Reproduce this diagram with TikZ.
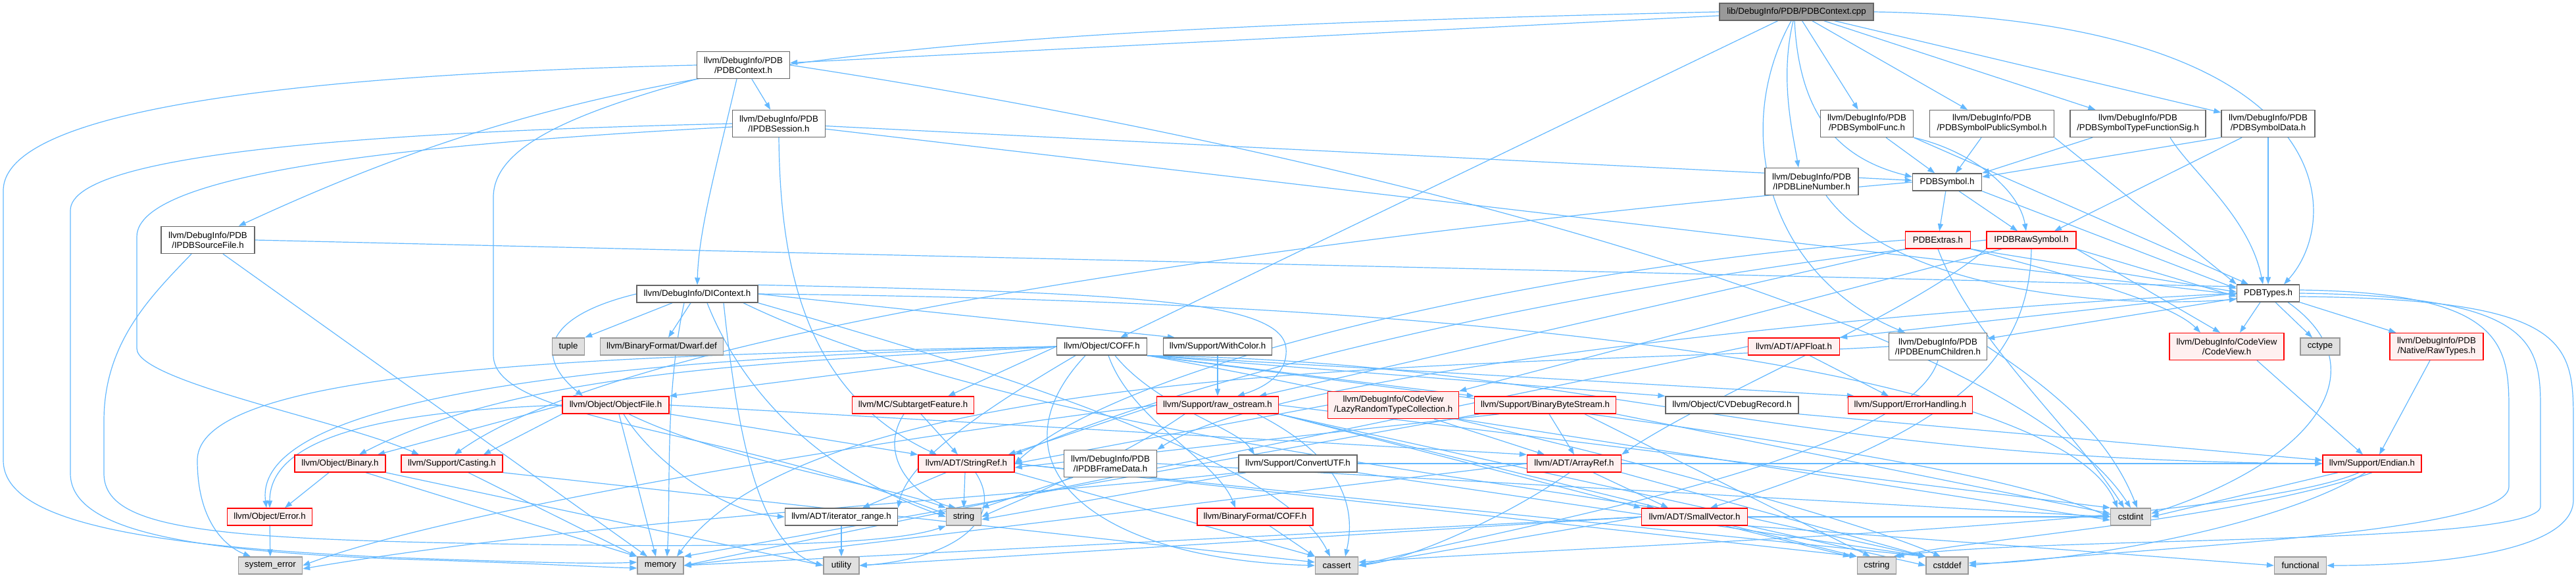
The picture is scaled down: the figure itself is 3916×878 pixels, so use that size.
\documentclass[tikz,border=0pt]{standalone}
\usepackage{fontspec}
\setmainfont{Liberation Sans}
\usetikzlibrary{arrows.meta}
\pgfdeclarelayer{bg}
\pgfsetlayers{bg,main}
\definecolor{edgeblue}{HTML}{63B8FF}
\definecolor{redfill}{HTML}{FFF0F0}
\definecolor{sysfill}{HTML}{E0E0E0}
\definecolor{sysline}{HTML}{999999}
\definecolor{boxline}{HTML}{666666}

\begin{document}
\begin{tikzpicture}[x=1pt,y=-1pt,font=\fontsize{13.3}{15}\selectfont,
  hbox/.style={draw=boxline,fill=white,line width=1.4pt,inner sep=0pt,minimum height=26pt,align=center},
  tall/.style={minimum height=41pt},
  redbox/.style={hbox,draw=red,fill=redfill},
  sysbox/.style={hbox,draw=sysline,fill=sysfill},
  rootbox/.style={hbox,fill=sysline},
  dep/.style={draw=edgeblue,line width=1.2pt,-{Triangle[length=11pt,width=8pt]}}]
  \useasboundingbox (0,0) rectangle (3916,878);

  % top rows
  \node[rootbox,minimum width=234pt] (root) at (2731,18) {lib/DebugInfo/PDB/PDBContext.cpp};
  \node[hbox,tall,minimum width=141pt] (ctxh) at (1130,99) {llvm/DebugInfo/PDB\\/PDBContext.h};
  \node[hbox,tall,minimum width=141pt] (sess) at (1184,188) {llvm/DebugInfo/PDB\\/IPDBSession.h};
  \node[hbox,tall,minimum width=141pt] (func) at (2838,188) {llvm/DebugInfo/PDB\\/PDBSymbolFunc.h};
  \node[hbox,tall,minimum width=189pt] (pubsym) at (3028,188) {llvm/DebugInfo/PDB\\/PDBSymbolPublicSymbol.h};
  \node[hbox,tall,minimum width=206pt] (fsig) at (3250,188) {llvm/DebugInfo/PDB\\/PDBSymbolTypeFunctionSig.h};
  \node[hbox,tall,minimum width=142pt] (sdata) at (3448,188) {llvm/DebugInfo/PDB\\/PDBSymbolData.h};
  \node[hbox,tall,minimum width=142pt] (lineno) at (2754,276) {llvm/DebugInfo/PDB\\/IPDBLineNumber.h};
  \node[hbox,minimum width=105pt] (sym) at (2960,277) {PDBSymbol.h};
  \node[hbox,tall,minimum width=142pt] (srcfile) at (316,365) {llvm/DebugInfo/PDB\\/IPDBSourceFile.h};
  \node[redbox,minimum width=99pt] (extras) at (2946,365) {PDBExtras.h};
  \node[redbox,minimum width=136pt] (rawsym) at (3088,365) {IPDBRawSymbol.h};
  \node[hbox,minimum width=184pt] (dictx) at (1060,447) {llvm/DebugInfo/DIContext.h};
  \node[hbox,minimum width=95pt] (types) at (3448,446) {PDBTypes.h};

  % middle rows
  \node[sysbox,minimum width=49pt] (tuple) at (864,527) {tuple};
  \node[sysbox,minimum width=187pt] (dwarf) at (1006,527) {llvm/BinaryFormat/Dwarf.def};
  \node[hbox,minimum width=137pt] (ocoff) at (1675,527) {llvm/Object/COFF.h};
  \node[hbox,minimum width=165pt] (color) at (1851,527) {llvm/Support/WithColor.h};
  \node[redbox,minimum width=139pt] (apfloat) at (2727,527) {llvm/ADT/APFloat.h};
  \node[hbox,tall,minimum width=149pt] (enumch) at (2946,527) {llvm/DebugInfo/PDB\\/IPDBEnumChildren.h};
  \node[redbox,tall,minimum width=174pt] (cview) at (3385,527) {llvm/DebugInfo/CodeView\\/CodeView.h};
  \node[sysbox,minimum width=60pt] (cctype) at (3527,527) {cctype};
  \node[redbox,tall,minimum width=142pt] (rawtypes) at (3704,527) {llvm/DebugInfo/PDB\\/Native/RawTypes.h};
  \node[redbox,minimum width=162pt] (objfile) at (936,616) {llvm/Object/ObjectFile.h};
  \node[redbox,minimum width=185pt] (subtgt) at (1388,616) {llvm/MC/SubtargetFeature.h};
  \node[redbox,minimum width=185pt] (ostream) at (1851,616) {llvm/Support/raw\_ostream.h};
  \node[redbox,tall,minimum width=199pt] (lazy) at (2118,616) {llvm/DebugInfo/CodeView\\/LazyRandomTypeCollection.h};
  \node[redbox,minimum width=215pt] (bbs) at (2349,616) {llvm/Support/BinaryByteStream.h};
  \node[hbox,minimum width=202pt] (cvdbg) at (2633,616) {llvm/Object/CVDebugRecord.h};
  \node[redbox,minimum width=189pt] (errh) at (2904,616) {llvm/Support/ErrorHandling.h};
  \node[redbox,minimum width=138pt] (binary) at (517,705) {llvm/Object/Binary.h};
  \node[redbox,minimum width=154pt] (casting) at (687,705) {llvm/Support/Casting.h};
  \node[redbox,minimum width=146pt] (strref) at (1469,705) {llvm/ADT/StringRef.h};
  \node[hbox,tall,minimum width=141pt] (frame) at (1688,705) {llvm/DebugInfo/PDB\\/IPDBFrameData.h};
  \node[hbox,minimum width=180pt] (cutf) at (1973,705) {llvm/Support/ConvertUTF.h};
  \node[redbox,minimum width=143pt] (aref) at (2393,705) {llvm/ADT/ArrayRef.h};
  \node[redbox,minimum width=150pt] (endian) at (3606,705) {llvm/Support/Endian.h};
  \node[redbox,minimum width=129pt] (oerr) at (410,786) {llvm/Object/Error.h};
  \node[hbox,minimum width=171pt] (irange) at (1279,786) {llvm/ADT/iterator\_range.h};
  \node[sysbox,minimum width=53pt] (string) at (1465,786) {string};
  \node[redbox,minimum width=176pt] (bcoff) at (1908,786) {llvm/BinaryFormat/COFF.h};
  \node[redbox,minimum width=161pt] (svec) at (2576,786) {llvm/ADT/SmallVector.h};
  \node[sysbox,minimum width=61pt] (cstdint) at (3239,786) {cstdint};

  % system headers
  \node[sysbox,minimum width=97pt] (syserr) at (411,860) {system\_error};
  \node[sysbox,minimum width=70pt] (memory) at (1004,860) {memory};
  \node[sysbox,minimum width=54pt] (utility) at (1279,860) {utility};
  \node[sysbox,minimum width=65pt] (cassert) at (2032,860) {cassert};
  \node[sysbox,minimum width=59pt] (cstring) at (2853,860) {cstring};
  \node[sysbox,minimum width=64pt] (cstddef) at (2960,860) {cstddef};
  \node[sysbox,minimum width=79pt] (functional) at (3497,860) {functional};

  \begin{pgfonlayer}{bg}
  % from the source file
  \draw[dep] (root) -- (ctxh);
  \draw[dep] (root.west) .. controls (1300,48) and (900,95) .. ([xshift=-25pt]srcfile.north east);
  \draw[dep] (root) -- (ocoff);
  \draw[dep] ([xshift=-8pt]root.south) .. controls (2630,200) and (2690,420) .. ([xshift=-50pt]enumch.north);
  \draw[dep] ([xshift=-5pt]root.south) .. controls (2705,120) and (2725,200) .. ([xshift=-20pt]lineno.north);
  \draw[dep] ([xshift=-3pt]root.south) .. controls (2735,170) and (2790,240) .. ([yshift=8pt]sym.west);
  \draw[dep] (root) -- (func);
  \draw[dep] (root) -- (pubsym);
  \draw[dep] (root) -- (fsig);
  \draw[dep] (root) -- (sdata);
  \draw[dep] (root.east) .. controls (3560,30) and (3565,330) .. ([xshift=24pt]types.north);

  \draw[dep] (ctxh) -- (sess);
  \draw[dep] ([xshift=-10pt]ctxh.south) .. controls (1090,250) and (1062,350) .. (dictx.north);
  \draw[dep] (ctxh.west) .. controls (500,112) and (5,160) .. (5,290) -- (5,700) .. controls (5,790) and (200,830) .. (600,848) .. controls (800,855) and (900,858) .. ([yshift=5pt]memory.west);
  \draw[dep] (ctxh.south west) .. controls (880,170) and (750,220) .. (750,300) -- (750,540) .. controls (750,640) and (1100,650) .. ([yshift=4pt]string.west);
  \draw[dep] (ctxh.east) .. controls (2000,220) and (3050,480) .. (cstdint.north);

  \draw[dep] (sess.west) .. controls (600,200) and (107,230) .. (107,320) -- (107,720) .. controls (107,810) and (300,838) .. (600,850) .. controls (800,856) and (900,862) .. ([yshift=-4pt]memory.west);
  \draw[dep] ([yshift=-5pt]sess.west) .. controls (650,218) and (208,260) .. (208,360) -- (208,530) .. controls (208,580) and (520,640) .. ([xshift=-50pt]casting.north);
  \draw[dep] (sess) -- (sym);
  \draw[dep] (sess) -- ([yshift=-2pt]types.west);
  \draw[dep] (sess.south) .. controls (1186,420) and (1230,600) .. ([xshift=-45pt]strref.north);

  \draw[dep] (func) -- (sym);
  \draw[dep] (func.south east) .. controls (3000,230) and (3070,290) .. ([xshift=-8pt]rawsym.north);
  \draw[dep] (func.south east) -- ([xshift=-30pt]types.north);
  \draw[dep] ([xshift=-16pt]pubsym.south) -- ([xshift=13pt]sym.north);
  \draw[dep] (pubsym.south east) -- (types.north west);
  \draw[dep] ([xshift=-69pt]fsig.south) -- (sym.north east);
  \draw[dep] ([xshift=49pt]fsig.south) .. controls (3330,260) and (3420,330) .. ([xshift=-8pt]types.north);
  \draw[dep] (sdata.south west) -- ([yshift=8pt]sym.east);
  \draw[dep] ([xshift=-40pt]sdata.south) -- ([xshift=35pt]rawsym.north);
  \draw[dep] (sdata) -- (types);
  \draw[dep] ([xshift=22pt]lineno.south) .. controls (2880,440) and (3200,470) .. ([yshift=-9pt]types.west);

  \draw[dep] (sym) -- (extras);
  \draw[dep] ([xshift=18pt]sym.south) -- ([xshift=-21pt]rawsym.north);
  \draw[dep] (sym.south east) -- ([yshift=7pt]types.west);
  \draw[dep] (sym.west) .. controls (2300,330) and (1000,470) .. ([xshift=4pt]casting.north);

  \draw[dep] (extras.south west) -- ([xshift=-30pt]ostream.north east);
  \draw[dep] (extras.west) .. controls (2300,410) and (1700,560) .. (strref.east);
  \draw[dep] (extras.south east) -- ([yshift=2pt]types.west);
  \draw[dep] (extras.south east) .. controls (3150,420) and (3300,460) .. ([xshift=-40pt]cview.north);
  \draw[dep] (extras.south) .. controls (3000,520) and (3150,650) .. ([xshift=-10pt]cstdint.north);

  \draw[dep] ([xshift=-45pt]rawsym.south) -- (lazy.north east);
  \draw[dep] (rawsym.south east) -- ([yshift=-5pt]types.west);
  \draw[dep] (rawsym.south east) -- ([xshift=-10pt]cview.north);
  \draw[dep] (rawsym.south) .. controls (3085,560) and (2950,663) .. ([xshift=24pt]svec.north);
  \draw[dep] (rawsym.south west) .. controls (2900,480) and (2600,600) .. (aref.north east);
  \draw[dep] (rawsym.west) .. controls (2500,420) and (1900,540) .. (strref.north east);

  \draw[dep] (enumch.west) .. controls (2300,560) and (1250,540) .. ([xshift=25pt]memory.north);
  \draw[dep] (enumch.east) .. controls (3100,580) and (3200,650) .. ([xshift=10pt]cstdint.north);
  \draw[dep] (enumch.south) .. controls (2900,700) and (2300,800) .. (cassert.east);

  \draw[dep] (types.west) -- (apfloat.north east);
  \draw[dep] (types) -- (enumch);
  \draw[dep] (types.west) .. controls (2900,470) and (1950,560) .. (frame.north east);
  \draw[dep] ([xshift=-12pt]types.south) -- ([xshift=20pt]cview.north);
  \draw[dep] ([xshift=11pt]types.south) -- ([xshift=-12pt]cctype.north);
  \draw[dep] (types.south east) -- ([xshift=10pt]rawtypes.north west);
  \draw[dep] ([xshift=30pt]types.south) .. controls (3620,560) and (3520,700) .. ([yshift=5pt]cstdint.east);
  \draw[dep] ([yshift=5pt]types.east) .. controls (3800,445) and (3814,520) .. (3814,620) -- (3814,740) .. controls (3814,810) and (3300,830) .. (cstddef.east);
  \draw[dep] (types.east) .. controls (3850,450) and (3862,520) .. (3862,620) -- (3862,770) .. controls (3862,830) and (3100,815) .. ([xshift=-5pt]cstring.north east);
  \draw[dep] ([yshift=-5pt]types.east) .. controls (3905,455) and (3912,520) .. (3912,640) -- (3912,760) .. controls (3912,840) and (3700,860) .. (functional.east);

  \draw[dep] (ocoff.west) -- (objfile.north east);
  \draw[dep] (ocoff.west) .. controls (1200,550) and (800,560) .. ([xshift=29pt]binary.north);
  \draw[dep] (ocoff.west) .. controls (1100,540) and (380,580) .. ([xshift=-5pt]oerr.north);
  \draw[dep] (ocoff.west) .. controls (900,540) and (300,560) .. (300,700) .. controls (300,790) and (340,830) .. ([xshift=-30pt]syserr.north);
  \draw[dep] ([xshift=-40pt]ocoff.south) .. controls (1500,620) and (1380,700) .. (irange.north east);
  \draw[dep] ([xshift=10pt]ocoff.south) .. controls (1720,640) and (1850,700) .. ([xshift=-30pt]bcoff.north);
  \draw[dep] ([xshift=20pt]ocoff.south) .. controls (1760,620) and (1880,650) .. ([xshift=-66pt]cutf.north);
  \draw[dep] (ocoff.south east) -- (cvdbg.north west);
  \draw[dep] (ocoff.south east) -- (bbs.north west);
  \draw[dep] (ocoff.south east) -- ([xshift=10pt]errh.north west);
  \draw[dep] (ocoff.south east) .. controls (2400,550) and (2700,700) .. (endian.west);
  \draw[dep] (ocoff.west) -- ([xshift=-40pt]subtgt.north east);
  \draw[dep] ([xshift=-25pt]ocoff.south) .. controls (1500,700) and (1650,850) .. (cassert.west);
  \draw[dep] (ocoff.south east) .. controls (2200,620) and (2800,780) .. ([xshift=-10pt]cstddef.north);
  \draw[dep] (ocoff.south east) .. controls (2500,640) and (3000,700) .. (cstdint.west);

  \draw[dep] ([xshift=-38pt]dictx.south) -- (tuple.north east);
  \draw[dep] ([xshift=-10pt]dictx.south) -- ([xshift=10pt]dwarf.north);
  \draw[dep] (dictx.west) .. controls (830,480) and (810,540) .. ([xshift=-50pt]objfile.north);
  \draw[dep] (dictx.east) -- ([xshift=-65pt]color.north);
  \draw[dep] (dictx.north east) .. controls (1700,445) and (1950,455) .. (1955,530) .. controls (1958,570) and (1920,590) .. ([xshift=30pt]ostream.north);
  \draw[dep] ([xshift=70pt]dictx.south) .. controls (1500,640) and (2200,720) .. ([xshift=20pt]svec.north west);
  \draw[dep] (dictx.south east) .. controls (1500,560) and (1950,700) .. ([xshift=-10pt]cassert.north);
  \draw[dep] (dictx.east) .. controls (2500,460) and (3150,600) .. ([xshift=-20pt]cstdint.north);
  \draw[dep] ([xshift=-20pt]dictx.south) .. controls (1010,600) and (1020,750) .. ([xshift=10pt]memory.north);
  \draw[dep] ([xshift=15pt]dictx.south) .. controls (1130,600) and (1250,720) .. (string.west);
  \draw[dep] ([xshift=40pt]dictx.south) .. controls (1120,650) and (1150,830) .. (utility.west);

  \draw[dep] (srcfile.east) -- ([yshift=10pt]types.west);
  \draw[dep] ([xshift=23pt]srcfile.south) -- ([xshift=-20pt]memory.north);
  \draw[dep] ([xshift=-25pt]srcfile.south) .. controls (230,450) and (158,520) .. (158,640) -- (158,720) .. controls (158,800) and (300,818) .. (700,826) .. controls (1100,834) and (1350,830) .. (string.south west);

  % middle headers
  \draw[dep] (color) -- (ostream);
  \draw[dep] (ostream.west) -- ([xshift=-10pt]strref.north east);
  \draw[dep] (ostream.south east) -- (svec.north west);
  \draw[dep] ([xshift=60pt]ostream.south) .. controls (2050,700) and (2060,780) .. ([xshift=13pt]cassert.north);
  \draw[dep] (ostream.south east) -- (cstddef.north west);
  \draw[dep] (ostream.east) -- (cstdint.north west);
  \draw[dep] (ostream.south east) -- (cstring.north west);
  \draw[dep] ([xshift=-50pt]ostream.south) .. controls (1700,700) and (1550,760) .. (string.east);
  \draw[dep] (ostream.west) .. controls (1400,660) and (700,770) .. (syserr.east);

  \draw[dep] (objfile.west) -- ([xshift=57pt]binary.north);
  \draw[dep] (objfile.west) .. controls (600,625) and (410,660) .. (oerr.north);
  \draw[dep] (objfile.south west) -- ([xshift=48pt]casting.north);
  \draw[dep] ([xshift=5pt]objfile.south) -- ([xshift=-7pt]memory.north);
  \draw[dep] ([xshift=12pt]objfile.south) .. controls (990,700) and (1100,780) .. (irange.west);
  \draw[dep] (objfile.south east) -- (strref.north west);
  \draw[dep] ([xshift=20pt]objfile.south) .. controls (1100,700) and (1350,740) .. (string.north west);
  \draw[dep] (objfile.east) -- (aref.north west);

  \draw[dep] ([xshift=12pt]subtgt.south) -- ([xshift=-13pt]strref.north);
  \draw[dep] ([xshift=-14pt]subtgt.south) .. controls (1330,700) and (1400,760) .. ([xshift=-12pt]string.north);

  \draw[dep] ([xshift=62pt]lazy.south) -- ([xshift=-45pt]aref.north);
  \draw[dep] (lazy.west) -- (strref.east);
  \draw[dep] (lazy.south east) -- ([yshift=-5pt]cstdint.west);
  \draw[dep] ([xshift=6pt]bbs.south) -- (aref.north);
  \draw[dep] ([xshift=-70pt]bbs.south) -- ([yshift=-6pt]strref.east);
  \draw[dep] (bbs.south east) -- ([yshift=5pt]cstdint.west);
  \draw[dep] ([xshift=60pt]bbs.south) -- ([xshift=-10pt]cstring.north);
  \draw[dep] ([xshift=-100pt]bbs.south) -- (memory.north east);
  \draw[dep] (cvdbg.south east) -- ([yshift=5pt]endian.west);
  \draw[dep] ([xshift=24pt]apfloat.south) -- ([xshift=-33pt]errh.north);
  \draw[dep] (apfloat.west) -- (memory.east);

  % lower headers
  \draw[dep] ([xshift=-17pt]binary.south) -- ([xshift=23pt]oerr.north);
  \draw[dep] ([xshift=39pt]binary.south) -- (memory.north west);
  \draw[dep] (binary.south east) -- (utility.west);
  \draw[dep] ([xshift=25pt]casting.south) -- (memory.north west);
  \draw[dep] (casting.south east) -- ([yshift=5pt]cassert.west);
  \draw[dep] ([xshift=-31pt]strref.south) -- ([xshift=32pt]irange.north);
  \draw[dep] ([xshift=-2pt]strref.south) -- (string.north);
  \draw[dep] ([xshift=14pt]strref.south) .. controls (1530,790) and (1450,850) .. (utility.east);
  \draw[dep] (strref.south east) -- (cassert.north west);
  \draw[dep] (strref.east) -- (cstddef.north west);
  \draw[dep] (strref.east) -- (cstring.north west);
  \draw[dep] ([xshift=-57pt]frame.south) -- (string.north east);
  \draw[dep] (frame.east) -- (cstdint.west);
  \draw[dep] (cutf.east) -- (endian.west);
  \draw[dep] (cutf.south east) -- (cstddef.north west);
  \draw[dep] ([xshift=-79pt]cutf.south) -- ([yshift=-4pt]string.east);
  \draw[dep] (cutf.south west) .. controls (1500,760) and (900,790) .. ([yshift=-5pt]syserr.east);
  \draw[dep] ([xshift=29pt]aref.south) -- ([xshift=-40pt]svec.north);
  \draw[dep] ([xshift=-7pt]aref.south) .. controls (2300,780) and (2150,850) .. (cassert.east);
  \draw[dep] (aref.south east) -- (cstddef.north west);
  \draw[dep] (aref.west) -- (memory.east);
  \draw[dep] ([xshift=-52pt]endian.south) -- (cstdint.east);
  \draw[dep] ([xshift=-20pt]endian.south) .. controls (3400,800) and (2400,830) .. ([yshift=5pt]cassert.east);
  \draw[dep] ([xshift=-10pt]endian.south) .. controls (3450,810) and (3100,860) .. ([yshift=4pt]cstddef.east);
  \draw[dep] (endian.south) .. controls (3400,790) and (3000,820) .. (cstring.north east);
  \draw[dep] ([xshift=46pt]cview.south) -- ([xshift=-14pt]endian.north);
  \draw[dep] ([xshift=-10pt]rawtypes.south) -- ([xshift=11pt]endian.north);
  \draw[dep] (oerr) -- (syserr);
  \draw[dep] (irange) -- (utility);
  \draw[dep] ([xshift=22pt]bcoff.south) -- (cassert.north west);
  \draw[dep] ([xshift=47pt]svec.south) -- ([xshift=-10pt]cstring.north west);
  \draw[dep] (svec.south east) -- (cstddef.west);
  \draw[dep] (svec.east) -- (cstdint.west);
  \draw[dep] (svec.south east) -- (functional.west);
  \draw[dep] (svec.west) -- (cassert.east);
  \draw[dep] (svec.west) -- (memory.east);
  \draw[dep] (svec.west) -- (utility.east);
  \end{pgfonlayer}
\end{tikzpicture}
\end{document}
